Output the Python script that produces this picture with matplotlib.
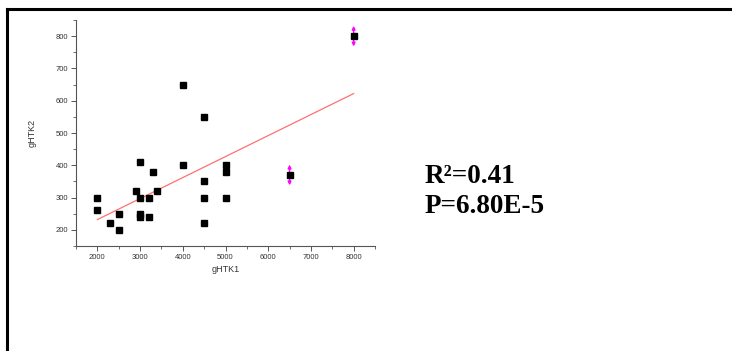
import numpy as np
import matplotlib
matplotlib.use("Agg")
import matplotlib.pyplot as plt
from matplotlib.lines import Line2D
from matplotlib.ticker import MultipleLocator

# Data
gHTK1 = [2000, 2000, 2300, 2500, 2500, 2900, 3000, 3000, 3000, 3000, 3200, 3200,
         3300, 3400, 4000, 4000, 4500, 4500, 4500, 4500, 5000, 5000, 5000, 6500, 8000]
gHTK2 = [300, 260, 220, 250, 200, 320, 410, 300, 250, 240, 300, 240,
         380, 320, 650, 400, 550, 350, 300, 220, 400, 380, 300, 370, 800]
flag_x = [6500, 8000]
flag_y = [370, 800]
x_ticks = [2000, 3000, 4000, 5000, 6000, 7000, 8000]
y_ticks = [200, 300, 400, 500, 600, 700, 800]
stats_text = ["R\u00b2=0.41", "P=6.80E-5"]

fig = plt.figure(figsize=(7.32, 3.51), dpi=100)
plt.rcParams['font.family'] = ['Liberation Sans', 'DejaVu Sans']

ax = fig.add_axes([76/732, 1-246/351, (375-76)/732, (246-20)/351])

x = np.array(gHTK1, float)
y = np.array(gHTK2, float)
slope, intercept = np.polyfit(x, y, 1)
xl = np.array([x.min(), x.max()])
ax.plot(xl, slope*xl + intercept, color='#ff7070', lw=0.9, zorder=2)

ax.plot(x, y, 's', color='black', ms=4.0, zorder=3)

for fx, fy in zip(flag_x, flag_y):
    ax.annotate('', xy=(fx, fy+32), xytext=(fx, fy-32),
                arrowprops=dict(arrowstyle='<|-|>', color='#ff00ff', lw=1.0,
                                mutation_scale=5, shrinkA=0, shrinkB=0), zorder=2)

ax.set_xlim(1500, 8500)
ax.set_ylim(150, 850)
ax.set_xticks(x_ticks)
ax.set_yticks(y_ticks)
ax.xaxis.set_minor_locator(MultipleLocator(500))
ax.yaxis.set_minor_locator(MultipleLocator(50))
ax.spines['top'].set_visible(False)
ax.spines['right'].set_visible(False)
for s in ['left', 'bottom']:
    ax.spines[s].set_color('#555555')
    ax.spines[s].set_linewidth(0.8)
ax.tick_params(which='major', direction='out', length=3.5, width=0.7, color='#555555',
               labelsize=5.5, labelcolor='#333333', pad=2)
ax.tick_params(which='minor', direction='out', length=2, width=0.6, color='#555555')
ax.set_xlabel('gHTK1', fontsize=6.5, color='#333333', labelpad=3)
ax.set_ylabel('gHTK2', fontsize=6.5, color='#333333', labelpad=14)

for txt, yb in zip(stats_text, [183, 213]):
    fig.text(425/732, 1-yb/351, txt, fontsize=19.5, fontweight='bold',
             family=['Liberation Serif', 'DejaVu Serif'], ha='left', va='baseline')

# frame lines (top and left)
fig.add_artist(Line2D([7/732, 1], [1-9/351, 1-9/351], transform=fig.transFigure,
                      color='black', lw=2.2))
fig.add_artist(Line2D([7/732, 7/732], [0, 1-9/351], transform=fig.transFigure,
                      color='black', lw=2.2))

fig.savefig('out.png', dpi=100)
